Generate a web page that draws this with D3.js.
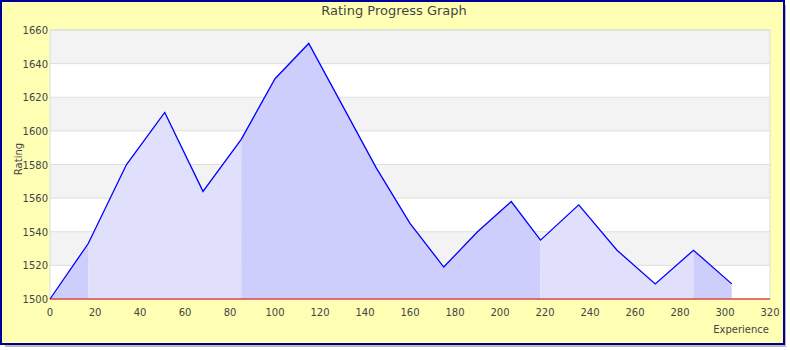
<!DOCTYPE html>
<html>
<head>
<meta charset="utf-8">
<script src="https://cdn.jsdelivr.net/npm/d3@7"></script>
<style>
  body { margin: 0; background: #fff; }
  text { font-family: "DejaVu Sans", sans-serif; }
</style>
</head>
<body>
<div id="chart"></div>
<script>
// experience / rating points
const experience = [0, 17, 34, 51, 68, 85, 100, 115, 130, 145, 160, 175, 190, 205, 218, 235, 252, 269, 286, 303];
const rating = [1500, 1533, 1580, 1611, 1564, 1595, 1631, 1652, 1615, 1578, 1545, 1519, 1540, 1558, 1535, 1556, 1529, 1509, 1529, 1509];
// shaded stretches (start / end experience), alternating dark and light
const periods = [[0, 17], [17, 85], [85, 218], [218, 286], [286, 303]];
const xTicks = d3.range(0, 321, 20);
const yTicks = d3.range(1500, 1661, 20);

const W = 790, H = 350;
const margin = { top: 30, right: 20, bottom: 51, left: 50 };

const svg = d3.select("#chart").append("svg")
    .attr("width", W)
    .attr("height", H);

// shadow + frame
svg.append("rect").attr("x", 5).attr("y", 5).attr("width", 781).attr("height", 342).attr("fill", "#bbb");
svg.append("rect").attr("x", 4).attr("y", 4).attr("width", 781).attr("height", 341).attr("fill", "#888");
svg.append("rect")
    .attr("x", 1).attr("y", 1)
    .attr("width", 783).attr("height", 343)
    .attr("fill", "#ffffb4")
    .attr("stroke", "#000099")
    .attr("stroke-width", 2);

const x = d3.scaleLinear().domain([0, 320]).range([margin.left, W - margin.right]);
const y = d3.scaleLinear().domain([1500, 1660]).range([299, margin.top]);

// alternating bands
const g = svg.append("g");
g.selectAll("rect.band")
    .data(d3.range(1500, 1660, 20))
    .enter().append("rect")
    .attr("x", x(0))
    .attr("y", d => y(d + 20))
    .attr("width", x(320) - x(0))
    .attr("height", d => y(d) - y(d + 20))
    .attr("fill", (d, i) => i % 2 ? "#f3f3f3" : "#ffffff");

// grid lines
g.selectAll("line.grid")
    .data(yTicks)
    .enter().append("line")
    .attr("x1", x(0)).attr("x2", x(320))
    .attr("y1", d => y(d)).attr("y2", d => y(d))
    .attr("stroke", "#dddddd");

g.append("rect")
    .attr("x", x(0)).attr("y", y(1660))
    .attr("width", x(320) - x(0)).attr("height", y(1500) - y(1660))
    .attr("fill", "none").attr("stroke", "#dddddd");

const pts = experience.map((e, i) => ({ e: e, r: rating[i] }));

// filled areas per period
const area = d3.area().x(d => x(d.e)).y0(y(1500)).y1(d => y(d.r));
periods.forEach(function(p, i) {
    const seg = pts.filter(d => d.e >= p[0] && d.e <= p[1]);
    g.append("path")
        .datum(seg)
        .attr("d", area)
        .attr("fill", i % 2 ? "#e0e0fc" : "#cecefc");
});

// rating line
g.append("path")
    .datum(pts)
    .attr("d", d3.line().x(d => x(d.e)).y(d => y(d.r)))
    .attr("fill", "none")
    .attr("stroke", "#0000ff")
    .attr("stroke-width", 1.3);

// bottom baseline
g.append("line")
    .attr("x1", x(0)).attr("x2", x(320))
    .attr("y1", y(1500)).attr("y2", y(1500))
    .attr("stroke", "#dd0000");

// tick labels
svg.selectAll("text.ytick")
    .data(yTicks)
    .enter().append("text")
    .attr("x", 48)
    .attr("y", d => y(d) + 4)
    .attr("text-anchor", "end")
    .attr("font-size", 10)
    .attr("fill", "#444")
    .text(d => d);

svg.selectAll("text.xtick")
    .data(xTicks)
    .enter().append("text")
    .attr("x", d => x(d))
    .attr("y", 316)
    .attr("text-anchor", "middle")
    .attr("font-size", 10)
    .attr("fill", "#444")
    .text(d => d);

// titles
svg.append("text")
    .attr("x", 394).attr("y", 15)
    .attr("text-anchor", "middle")
    .attr("font-size", 13)
    .attr("fill", "#444")
    .text("Rating Progress Graph");

svg.append("text")
    .attr("transform", "translate(22,159) rotate(-90)")
    .attr("text-anchor", "middle")
    .attr("font-size", 10)
    .attr("fill", "#444")
    .text("Rating");

svg.append("text")
    .attr("x", 769).attr("y", 333)
    .attr("text-anchor", "end")
    .attr("font-size", 10)
    .attr("fill", "#444")
    .text("Experience");
</script>
</body>
</html>
